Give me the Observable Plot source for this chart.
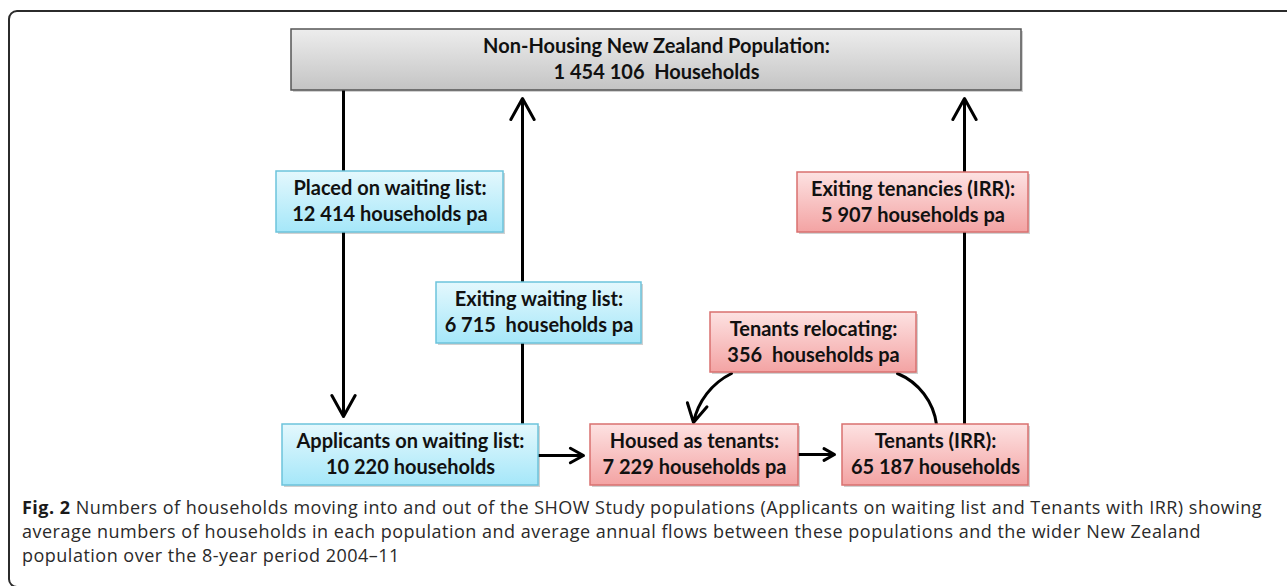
<!DOCTYPE html>
<html><head><meta charset="utf-8">
<script src="https://cdn.jsdelivr.net/npm/d3@7"></script>
<script src="https://cdn.jsdelivr.net/npm/@observablehq/plot@0.6"></script>
<style>
body{margin:0;background:#fff;}
#wrap{position:relative;width:1287px;height:586px;overflow:hidden;}
#frame{position:absolute;left:8px;top:10px;width:1400px;height:574px;border:2px solid #2b2b2b;border-radius:9px;}
#chart{position:absolute;left:0;top:0;}
#caption{position:absolute;left:22px;top:495px;font-family:"Open Sans",sans-serif;font-size:18px;line-height:24px;color:#2a2a2a;white-space:nowrap;}
#caption b{font-weight:700;color:#1a1a1a;}
</style></head><body>
<div id="wrap"><div id="frame"></div><div id="chart"></div><div id="caption"></div></div>
<script>
// ---- data ----
const nodeTitles = [
  "Non-Housing New Zealand Population:",
  "Placed on waiting list:",
  "Exiting waiting list:",
  "Applicants on waiting list:",
  "Housed as tenants:",
  "Tenants relocating:",
  "Exiting tenancies (IRR):",
  "Tenants (IRR):"
];
const nodeCounts = ["1 454 106", "12 414", "6 715", "10 220", "7 229", "356", "5 907", "65 187"];
const nodeUnits = ["Households", "households pa", "households pa", "households", "households pa", "households pa", "households pa", "households"];
const nodeGroups = ["population", "applicants", "applicants", "applicants", "tenants", "tenants", "tenants", "tenants"];
const wideGap = [true, false, true, false, false, true, false, false];

const captionBold = "Fig. 2";
const captionLines = [
  " Numbers of households moving into and out of the SHOW Study populations (Applicants on waiting list and Tenants with IRR) showing",
  "average numbers of households in each population and average annual flows between these populations and the wider New Zealand",
  "population over the 8-year period 2004\u201311"
];

// ---- layout (pixel positions of the diagram) ----
const boxX1 = [291, 276, 436, 282, 590, 710, 797, 842];
const boxX2 = [1021, 503, 641, 538, 798, 916, 1028, 1028];
const boxY1 = [29, 171, 282, 424, 424, 312, 172, 424];
const boxY2 = [90, 232, 343, 485, 485, 372, 232, 485];

// straight arrows
const arrowsX1 = [343, 522, 964, 538, 798];
const arrowsY1 = [90, 424, 424, 455, 454];
const arrowsX2 = [343, 522, 964, 583, 834];
const arrowsY2 = [416, 98, 98, 455, 454];

const nodes = nodeTitles.map((t, i) => ({
  title: t,
  count: nodeCounts[i] + (wideGap[i] ? "\u00a0 " : " ") + nodeUnits[i],
  group: nodeGroups[i],
  x1: boxX1[i], x2: boxX2[i], y1: boxY1[i], y2: boxY2[i],
  cx: (boxX1[i] + boxX2[i]) / 2, cy: (boxY1[i] + boxY2[i]) / 2
}));
const arrows = arrowsX1.map((x, i) => ({x1: x, y1: arrowsY1[i], x2: arrowsX2[i], y2: arrowsY2[i]}));
const curveIn = [{x1: 731, y1: 373, x2: 693, y2: 422}];
const curveOut = [{x1: 897, y1: 373, x2: 936, y2: 424}];

const fills = {population: "url(#gGray)", applicants: "url(#gBlue)", tenants: "url(#gRed)"};
const strokes = {population: "#555555", applicants: "#6cc3db", tenants: "#d9706f"};

const W = 1287, H = 490;
const font = "Lato, sans-serif";

const boxMarks = Object.keys(fills).map(g => Plot.rect(nodes.filter(d => d.group === g), {
  x1: "x1", x2: "x2", y1: "y1", y2: "y2",
  fill: fills[g], stroke: strokes[g], strokeWidth: 1.5
}));

const svg = Plot.plot({
  width: W, height: H,
  margin: 0,
  x: {domain: [0, W], range: [0, W], axis: null},
  y: {domain: [0, H], range: [0, H], axis: null},
  style: {background: "transparent", fontFamily: font},
  marks: [
    Plot.arrow(arrows, {x1: "x1", y1: "y1", x2: "x2", y2: "y2", stroke: "#000", strokeWidth: 3, headLength: 12, headAngle: 58}),
    Plot.arrow(curveIn, {x1: "x1", y1: "y1", x2: "x2", y2: "y2", stroke: "#000", strokeWidth: 3, headLength: 12, headAngle: 58, bend: -26}),
    Plot.arrow(curveOut, {x1: "x1", y1: "y1", x2: "x2", y2: "y2", stroke: "#000", strokeWidth: 3, headLength: 0, bend: 30}),
    Plot.rect(nodes, {x1: "x1", x2: "x2", y1: "y1", y2: "y2", dx: 2, dy: 2, fill: "#000", fillOpacity: 0.18}),
    ...boxMarks,
    Plot.text(nodes, {x: "cx", y: d => d.cy - 13, text: "title", fontSize: 20, fontWeight: 700, fill: "#111", lineAnchor: "middle"}),
    Plot.text(nodes, {x: "cx", y: d => d.cy + 13, text: "count", fontSize: 20, fontWeight: 700, fill: "#111", lineAnchor: "middle"})
  ]
});

d3.select(svg).insert("defs", ":first-child").html(`
  <linearGradient id="gGray" x1="0" y1="0" x2="0" y2="1">
    <stop offset="0" stop-color="#ededed"/><stop offset="1" stop-color="#c4c4c4"/>
  </linearGradient>
  <linearGradient id="gBlue" x1="0" y1="0" x2="0" y2="1">
    <stop offset="0" stop-color="#e4f8fd"/><stop offset="1" stop-color="#a5e7f9"/>
  </linearGradient>
  <linearGradient id="gRed" x1="0" y1="0" x2="0" y2="1">
    <stop offset="0" stop-color="#fde2e2"/><stop offset="1" stop-color="#f3a3a3"/>
  </linearGradient>`);

document.getElementById("chart").appendChild(svg);

const cap = d3.select("#caption");
const capDivs = captionLines.map((line, i) => {
  const div = cap.append("div");
  if (i === 0) div.append("b").text(captionBold);
  div.append("span").text(line);
  return div;
});
// fit the first caption line to the width seen in the figure (22 -> 1262 px)
const first = capDivs[0].node();
const r = document.createRange(); r.selectNodeContents(first);
const w0 = r.getBoundingClientRect().width;
const nChars = (captionBold + captionLines[0]).length;
const ls = (1240 - w0) / nChars;
cap.style("letter-spacing", ls.toFixed(3) + "px");
</script>
</body></html>
